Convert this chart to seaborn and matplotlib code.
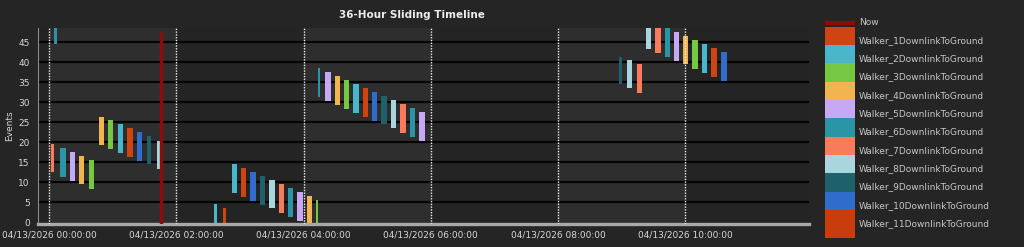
import matplotlib
matplotlib.use("Agg")
import matplotlib.pyplot as plt
import matplotlib.ticker as mticker
from matplotlib.patches import Patch, Rectangle
from matplotlib.legend_handler import HandlerPatch
import seaborn as sns

# ---------------- data ----------------
series_names = [f"Walker_{i}DownlinkToGround" for i in range(1, 12)]
series_colors = ["#cf4512", "#4ab6cc", "#76c843", "#f2b450", "#c6a9f5", "#2a95a6",
                 "#f97b5c", "#a8d5de", "#1f616b", "#2f6ccb", "#c93d0c"]

# each event: walker number, centre time (minutes after 00:00), duration (min), low, high
bar_walker = [6, 7, 6, 5, 4, 3, 4, 3, 2, 1, 10, 9, 8,
              2, 1, 2, 1, 10, 9, 8, 7, 6, 5, 4, 3,
              6, 5, 4, 3, 2, 1, 10, 9, 8, 7, 6, 5,
              9, 8, 7, 8, 7, 6, 5, 4, 3, 2, 1, 10]
bar_center = [6.2, 3.6, 13.2, 22.2, 30.7, 39.9, 49.3, 58.2, 67.2, 76.4, 85.6, 94.3, 104.0,
              156.7, 165.4, 174.9, 183.6, 192.4, 201.2, 210.2, 218.9, 227.9, 236.7, 245.6, 252.9,
              254.6, 263.0, 271.9, 280.5, 289.3, 298.1, 306.9, 315.7, 324.5, 333.6, 342.7, 351.6,
              538.5, 547.6, 556.6, 565.1, 574.0, 582.8, 591.5, 600.2, 609.1, 618.1, 626.9, 636.3]
bar_duration = [2.5, 3.0, 5, 5, 5, 5, 5, 5, 5, 5, 5, 3.3, 5,
                3.0, 3.5, 5, 5, 5, 5, 5, 5, 5, 5, 5, 2.0,
                2.2, 5, 5, 5, 5, 5, 5, 5, 5, 5, 5, 5,
                3.0, 4.5, 5, 5, 5, 5, 5, 5, 5, 5, 5, 5]
bar_low = [44.5, 12.5, 11.4, 10.3, 9.5, 8.3, 19.3, 18.4, 17.25, 16.25, 15.4, 14.5, 13.25,
           -2.6, -3.6, 7.3, 6.3, 5.3, 4.4, 3.5, 2.4, 1.4, 0.4, -0.6, -1.6,
           31.4, 30.4, 29.4, 28.4, 27.4, 26.4, 25.4, 24.5, 23.5, 22.4, 21.4, 20.4,
           34.5, 33.5, 32.4, 43.4, 42.4, 41.4, 40.4, 39.5, 38.4, 37.4, 36.4, 35.4]
bar_high = [51.6, 19.6, 18.5, 17.5, 16.6, 15.5, 26.4, 25.6, 24.6, 23.5, 22.6, 21.6, 20.4,
            4.5, 3.5, 14.5, 13.5, 12.5, 11.5, 10.5, 9.5, 8.5, 7.5, 6.5, 5.5,
            38.5, 37.5, 36.6, 35.5, 34.6, 33.6, 32.6, 31.6, 30.6, 29.6, 28.6, 27.6,
            41.4, 40.6, 39.6, 50.5, 49.5, 48.5, 47.5, 46.7, 45.6, 44.6, 43.6, 42.5]

now_minutes = 105.4
now_top = 47.6
tick_hours = [0, 2, 4, 6, 8, 10]
tick_labels = ["04/13/2026 00:00:00", "04/13/2026 02:00:00", "04/13/2026 04:00:00",
               "04/13/2026 06:00:00", "04/13/2026 08:00:00", "04/13/2026 10:00:00"]
y_ticks = [0, 5, 10, 15, 20, 25, 30, 35, 40, 45]

# ---------------- style ----------------
sns.set_theme(style="dark")
plt.rcParams["font.family"] = ["DejaVu Sans"]
FIG_BG = "#252525"
TXT = "#d8d8d8"
fs = 6.5

fig = plt.figure(figsize=(10.24, 2.47), dpi=100, facecolor=FIG_BG)
ax = fig.add_axes([38 / 1024, 0.0951, (809 - 38) / 1024, 0.8854 - 0.0951])
ax.set_facecolor("#242424")

xmin, xmax = -10.4 / 60, 716.5 / 60
ymin, ymax = -0.3, 48.5
ax.set_xlim(xmin, xmax)
ax.set_ylim(ymin, ymax)

# alternating 2-hour background bands
for h in range(0, 12, 4):
    ax.axvspan(h, h + 2, color="#2e2e2e", zorder=0, lw=0)

# horizontal grid lines
for yv in y_ticks[1:]:
    ax.axhline(yv, color="#050505", lw=1.6, zorder=1)

# event bars
for w, c, d, lo, hi in zip(bar_walker, bar_center, bar_duration, bar_low, bar_high):
    ax.bar((c / 60), hi - lo, width=d / 60, bottom=lo, color=series_colors[w - 1],
           lw=0, zorder=2, align="center")

# dotted 2-hour markers
for h in tick_hours:
    ax.axvline(h, color="#f0f0f0", lw=1.0, ls=(0, (1, 1)), zorder=3)

# now line
now_color = "#8e0b0b"
ax.vlines(now_minutes / 60, ymin, now_top, color=now_color, lw=2.4, zorder=4)

# axes styling
ax.set_xticks(tick_hours)
ax.set_xticklabels(tick_labels)
ax.xaxis.set_minor_locator(mticker.MultipleLocator(0.4))
ax.set_yticks(y_ticks)
ax.yaxis.set_minor_locator(mticker.MultipleLocator(2.5))
ax.tick_params(axis="both", which="both", colors="#a0a0a0", labelcolor=TXT,
               labelsize=fs, direction="out")
ax.tick_params(axis="x", which="both", length=3, width=1, pad=1.7)
ax.tick_params(axis="y", which="major", length=4, width=1, pad=2)
ax.tick_params(axis="y", which="minor", length=2, width=0.8)
ax.grid(False)
for s in ["top", "right"]:
    ax.spines[s].set_visible(False)
ax.spines["left"].set_color("#8a8a8a")
ax.spines["left"].set_linewidth(0.8)
ax.spines["bottom"].set_color("#a8a8a8")
ax.spines["bottom"].set_linewidth(2.4)
ax.set_ylabel("Events", color=TXT, fontsize=fs, labelpad=3)

fig.text(412 / 1024, 1 - 15 / 247, "36-Hour Sliding Timeline", ha="center", va="center",
         color="#ececec", fontsize=7.5, fontweight="bold")


# legend
def shifted_patch(legend, orig_handle, xdescent, ydescent, width, height, fontsize):
    return Rectangle((-xdescent, -ydescent + 3.1), width, height)


def last_patch(legend, orig_handle, xdescent, ydescent, width, height, fontsize):
    return Rectangle((-xdescent, -ydescent + 3.1 - 6.9), width, height + 6.9)


def now_bar(legend, orig_handle, xdescent, ydescent, width, height, fontsize):
    return Rectangle((-xdescent, -0.15), width, 2.9)


now_handle = Patch(facecolor=now_color, edgecolor="none")
handles = [now_handle]
labels = ["Now"]
for name, col in zip(series_names, series_colors):
    handles.append(Patch(facecolor=col, edgecolor="none"))
    labels.append(name)
hmap = {now_handle: HandlerPatch(patch_func=now_bar),
        handles[-1]: HandlerPatch(patch_func=last_patch),
        Patch: HandlerPatch(patch_func=shifted_patch)}
leg = fig.legend(handles, labels, loc="upper left", bbox_to_anchor=(825 / 1024, 1 - 12.8 / 247),
                 frameon=False, fontsize=fs, labelcolor="#c8c8c8", handlelength=3.32,
                 handleheight=2.742, labelspacing=0, handletextpad=0.44, borderpad=0,
                 borderaxespad=0, handler_map=hmap)

fig.savefig("out.png", dpi=100, facecolor=FIG_BG)
